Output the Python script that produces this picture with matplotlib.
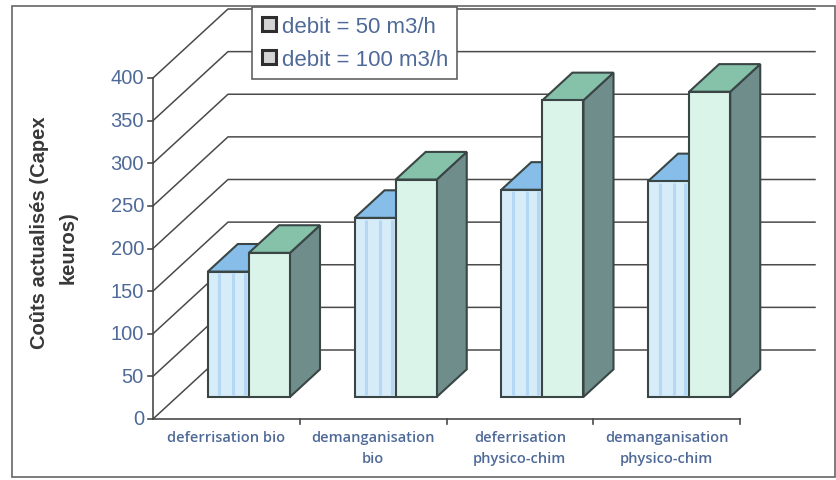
import matplotlib
matplotlib.use("Agg")
import matplotlib.pyplot as plt
from matplotlib.patches import Polygon, Rectangle
from matplotlib.lines import Line2D

plt.rcParams["font.family"] = ["Liberation Sans", "DejaVu Sans"]

categories = ["deferrisation bio", "demanganisation\nbio",
              "deferrisation\nphysico-chim", "demanganisation\nphysico-chim"]
debit_50 = [147, 210, 243, 253]
debit_100 = [169, 255, 348, 358]
series_labels = ["debit = 50 m3/h", "debit = 100 m3/h"]
yticks = list(range(0, 401, 50))
ylabel_lines = ["Coûts actualisés (Capex", "keuros)"]

INK = "#383838"; TICK = "#4f6a98"; GRID = "#4a4a4a"; EDGE = "#3a4646"
BLUE_FRONT = "#d6ecf9"; BLUE_STRIPE = "#b4d8f3"; BLUE_TOP = "#86bde9"
GREEN_FRONT = "#daf4ea"; GREEN_TOP = "#86c1a9"; GREEN_SIDE = "#6f8e8b"

W, H = 836, 481
# front plane in pixels: value 0 at y=420, 400 at y=79; categories span x 153..740
X0, CAT_W, Y0, V_PX = 153, 146.75, 420, 341 / 400
# oblique depth of the chart box, in pixels
DEPTH_DX, DEPTH_DY = 75, 69

fig = plt.figure(figsize=(W / 100, H / 100), dpi=100)
fig.patch.set_facecolor("white")
ax = fig.add_axes([0, 0, 1, 1])
ax.set_xlim(-X0 / CAT_W, (W - X0) / CAT_W)
ax.set_ylim(-(H - Y0) / V_PX, Y0 / V_PX)
ax.axis("off")

DX = DEPTH_DX / CAT_W
DY = DEPTH_DY / V_PX
n = len(categories)

# walls: side-wall diagonals + back-wall gridlines
for v in yticks:
    ax.plot([0, DX, n + DX], [v, v + DY, v + DY], color=GRID, lw=1.1, zorder=1)
# front value axis with ticks and labels
ax.plot([0, 0], [0, yticks[-1]], color=GRID, lw=1.2, zorder=1)
for v in yticks:
    ax.plot([-5 / CAT_W, 0], [v, v], color=GRID, lw=1.2, zorder=1)
    ax.annotate(str(v), (0, v), xytext=(-9, 0), textcoords="offset pixels",
                ha="right", va="center", fontsize=14.5, color=TICK)
# category axis
ax.plot([0, n], [0, 0], color=GRID, lw=1.2, zorder=1)
for i in range(1, n + 1):
    ax.plot([i, i], [0, -5 / V_PX], color=GRID, lw=1.2, zorder=1)
for i, cat in enumerate(categories):
    ax.annotate(cat, (i + 0.5, 0), xytext=(0, -11), textcoords="offset pixels",
                ha="center", va="top", fontsize=10.5, color=TICK, linespacing=1.6,
                family=["Open Sans", "DejaVu Sans"], fontweight="semibold")

D0, DD = 0.32, 0.40     # bar front plane and bar depth, as fractions of box depth
BAR_W = 0.28


def draw_bar(x_left, value, front, top, side, stripes=()):
    xl = x_left + D0 * DX
    yb = D0 * DY
    ox, oy = DD * DX, DD * DY
    kw = dict(ec=EDGE, lw=1.5, zorder=3, joinstyle="miter")
    ax.add_patch(Polygon([(xl + BAR_W, yb), (xl + BAR_W + ox, yb + oy),
                          (xl + BAR_W + ox, yb + value + oy), (xl + BAR_W, yb + value)],
                         fc=side, **kw))
    ax.add_patch(Polygon([(xl, yb + value), (xl + BAR_W, yb + value),
                          (xl + BAR_W + ox, yb + value + oy), (xl + ox, yb + value + oy)],
                         fc=top, **kw))
    ax.add_patch(Rectangle((xl, yb), BAR_W, value, fc=front, **kw))
    for f in stripes:
        ax.plot([xl + f * BAR_W] * 2, [yb + 2, yb + value - 2], color=BLUE_STRIPE,
                lw=2.2, zorder=3.5, solid_capstyle="butt")


for i in range(n):
    c = i + 0.5
    draw_bar(c - 0.29, debit_50[i], BLUE_FRONT, BLUE_TOP, GREEN_SIDE, stripes=(0.28, 0.62, 0.9))
    draw_bar(c - 0.01, debit_100[i], GREEN_FRONT, GREEN_TOP, GREEN_SIDE)

handles = [Line2D([], [], ls="none", marker="s", markersize=10, markerfacecolor="#d4d4d4",
                  markeredgecolor="#2e2e2e", markeredgewidth=2.2) for _ in series_labels]
leg = ax.legend(handles, series_labels, loc="upper left",
                bbox_to_anchor=(252 / W, 1 - 8 / H), bbox_transform=fig.transFigure,
                fontsize=16, labelcolor=TICK, frameon=True, fancybox=False,
                edgecolor="#555555", framealpha=1, borderaxespad=0, borderpad=0.4,
                handlelength=0.7, handletextpad=0.25, labelspacing=0.55)
leg.get_frame().set_linewidth(1.1)
leg.set_zorder(5)

# two-line value-axis title
for (px, py), line in zip([(40, 233), (68, 248)], ylabel_lines):
    fig.text(px / W, 1 - py / H, line, rotation=90, ha="center", va="center",
             fontsize=14.5, fontweight="bold", color=INK)

fig.add_artist(Rectangle((12 / W, 1 - 478 / H), (835 - 12) / W, (478 - 7) / H,
                         transform=fig.transFigure, fill=False, ec="#666666", lw=1.2))

fig.savefig("out.png", dpi=100)
